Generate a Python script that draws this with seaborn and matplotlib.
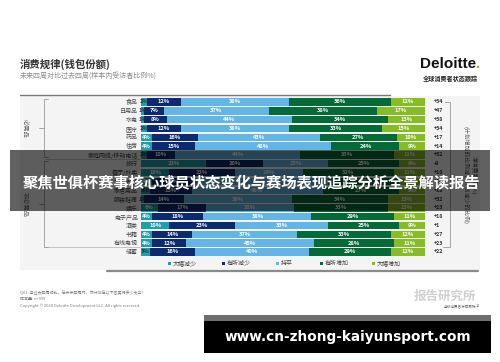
import numpy as np
import pandas as pd
import matplotlib
matplotlib.use("Agg")
import matplotlib.pyplot as plt
import seaborn as sns
from matplotlib.patches import Rectangle
from matplotlib.lines import Line2D

# ---------------- data ----------------
categories = ["食品", "日用品", "水电", "医疗", "药品", "住房", "家庭网络/移动电话",
              "旅行", "餐厅/外卖", "个人护理", "家居用品", "服装鞋履", "娱乐",
              "电子产品", "酒类", "书籍", "有线电视", "储蓄"]
big_decrease   = [2, 1, 1, 2, 4, 4, 2, 23, 10, 4, 3, 1, 6, 4, 10, 4, 4, 3]
some_decrease  = [12, 7, 8, 12, 16, 15, 10, 20, 23, 14, 15, 14, 17, 18, 23, 14, 12, 16]
same           = [38, 37, 44, 38, 43, 48, 44, 23, 24, 48, 46, 38, 31, 38, 33, 37, 45, 40]
some_increase  = [36, 38, 34, 33, 27, 24, 33, 25, 32, 25, 27, 34, 33, 29, 25, 33, 28, 29]
big_increase   = [12, 17, 13, 15, 10, 9, 11, 9, 11, 9, 9, 13, 13, 11, 9, 12, 11, 12]
net_values     = [34, 47, 38, 34, 17, 14, 32, -9, 10, 16, 18, 32, 23, 18, 1, 27, 23, 22]
series_names = ["大幅减少", "有所减少", "持平", "有所增加", "大幅增加"]
colors = ["#1f9fac", "#0b2a6f", "#62b5e5", "#046a38", "#86bc25"]

series = [big_decrease, some_decrease, same, some_increase, big_increase]

# ---------------- setup ----------------
sns.set_style("white")
plt.rcParams["font.family"] = ["Noto Sans CJK SC", "DejaVu Sans"]

W, H = 500, 362
fig = plt.figure(figsize=(W / 100, H / 100), dpi=100)
fig.patch.set_facecolor("white")

def fx(px):
    return px / W

def fy(py):
    return 1 - py / H

# gray panel
fig.patches.append(Rectangle((fx(20), fy(270)), 460 / W, (270 - 96) / H,
                             transform=fig.transFigure, facecolor="#f4f4f4",
                             edgecolor="none", zorder=-1))
fig.add_artist(Line2D([fx(20), fx(390)], [fy(95), fy(95)], transform=fig.transFigure,
                      color="#7a7a7a", lw=1.0, zorder=2))
fig.add_artist(Line2D([fx(107), fx(478)], [fy(271), fy(271)], transform=fig.transFigure,
                      color="#8a8a8a", lw=1.6, zorder=2))

# ---------------- bars ----------------
row_h = (252 - 102) / 17
top_px = 102 - row_h / 2
bot_px = 252 + row_h / 2
ax = fig.add_axes([fx(141), fy(bot_px), (425 - 141) / W, (bot_px - top_px) / H])
ax.set_facecolor("none")

df = pd.DataFrame({"category": categories})
cum = np.zeros(len(categories))
cums = []
for s in series:
    cum = cum + np.array(s)
    cums.append(cum.copy())

for j in range(len(series) - 1, -1, -1):
    d = pd.DataFrame({"category": categories, "value": cums[j]})
    sns.barplot(data=d, x="value", y="category", orient="h", color=colors[j],
                saturation=1, width=0.84, linewidth=0, ax=ax, errorbar=None)

ax.set_xlim(0, 100)
ax.set_ylim(len(categories) - 0.5, -0.5)
ax.set_xlabel("")
ax.set_ylabel("")
ax.set_xticks([])
for sp in ax.spines.values():
    sp.set_visible(False)
ax.tick_params(axis="y", length=0, pad=2.2, labelsize=4.3, labelcolor="#444444")

# segment labels
for j, s in enumerate(series):
    for i, v in enumerate(s):
        center = cums[j][i] - v / 2
        col = "white" if v >= 4 else "#333333"
        ax.text(center, i, f"{v}%", ha="center", va="center", fontsize=4.1,
                color=col, fontweight="bold")

# net values
for i, n in enumerate(net_values):
    txt = f"+{n}" if n > 0 else f"{n}"
    ax.text(103.2, i, txt, ha="left", va="center", fontsize=3.8,
            color="#333333", fontweight="bold", clip_on=False)

# ---------------- separators and brackets ----------------
for yy in (158.5, 247):
    fig.add_artist(Line2D([fx(45), fx(140)], [fy(yy), fy(yy)], transform=fig.transFigure,
                          color="#bdbdbd", lw=0.6, zorder=2))

def bracket_left(y0, y1):
    x = 44
    fig.add_artist(Line2D([fx(x + 4), fx(x), fx(x), fx(x + 4)],
                          [fy(y0), fy(y0), fy(y1), fy(y1)], transform=fig.transFigure,
                          color="#9a9a9a", lw=0.6, zorder=2))
    ym = (y0 + y1) / 2
    fig.add_artist(Line2D([fx(x - 5), fx(x)], [fy(ym), fy(ym)], transform=fig.transFigure,
                          color="#9a9a9a", lw=0.6, zorder=2))

bracket_left(99, 157)
bracket_left(161, 247)
fig.text(fx(25), fy(128), "必需品", rotation=270, ha="center", va="center",
         fontsize=4.5, color="#666666")
fig.text(fx(25), fy(204), "非必需品", rotation=270, ha="center", va="center",
         fontsize=4.5, color="#666666")

fig.add_artist(Line2D([fx(445), fx(450), fx(450), fx(443)],
                      [fy(102), fy(102), fy(247), fy(247)], transform=fig.transFigure,
                      color="#9a9a9a", lw=0.6, zorder=2))
fig.text(fx(470), fy(175), "净消费意愿(%)\n(计划增加的比例减去计划减少的比例)", rotation=270,
         ha="center", va="center", fontsize=4.2, color="#555555", linespacing=1.3)

# ---------------- legend ----------------
leg_x = [168, 222, 276, 320, 372]
for x, name, c in zip(leg_x, series_names, colors):
    fig.patches.append(Rectangle((fx(x), fy(264.5)), 3 / W, 3 / H, transform=fig.transFigure,
                                 facecolor=c, edgecolor="none", zorder=2))
    fig.text(fx(x + 4.5), fy(263), name, ha="left", va="center", fontsize=4.3,
             color="#444444")

# ---------------- titles ----------------
fig.text(fx(20), fy(64), "消费规律(钱包份额)", ha="left", va="center", fontsize=7.5,
         color="#333333", fontweight="bold")
fig.text(fx(20), fy(76), "未来四周对比过去四周(样本内受访者比例%)", ha="left", va="center",
         fontsize=5.0, color="#8a8a8a")
fig.text(fx(420), fy(64), "Deloitte", ha="left", va="center", fontsize=11,
         fontweight="bold", color="#111111", family=["Liberation Sans", "DejaVu Sans"])
fig.text(fx(476), fy(64), ".", ha="left", va="center", fontsize=11,
         fontweight="bold", color="#86bc25", family=["Liberation Sans", "DejaVu Sans"])
fig.text(fx(423), fy(79), "全球消费者状态跟踪", ha="left", va="center", fontsize=4.4,
         color="#222222", fontweight="bold")

# ---------------- footer ----------------
fig.text(fx(20), fy(292), "Q61: 与过去四周相比，在未来四周内，你计划在以下各类将多少支出?",
         ha="left", va="center", fontsize=2.9, color="#777777")
fig.text(fx(20), fy(299), "样本量: n=999", ha="left", va="center", fontsize=2.9,
         color="#777777")
fig.text(fx(20), fy(306), "Copyright © 2020 Deloitte Development LLC. All rights reserved.",
         ha="left", va="center", fontsize=2.9, color="#777777")
fig.text(fx(445), fy(296), "报告研究所", ha="center", va="center", fontsize=9,
         color="#d0d0d0", fontweight="bold")
fig.text(fx(460), fy(306), "全球消费者状态跟踪", ha="center", va="center", fontsize=2.6,
         color="#666666")
fig.text(fx(478), fy(306), "12", ha="center", va="center", fontsize=2.8, color="#666666")

# ---------------- overlay banner ----------------
fig.patches.append(Rectangle((fx(10), fy(211)), 480 / W, 61 / H, transform=fig.transFigure,
                             facecolor="black", alpha=0.62, edgecolor="none", zorder=5))
fig.text(fx(251), fy(183), "聚焦世俱杯赛事核心球员状态变化与赛场表现追踪分析全景解读报告",
         ha="center", va="center", fontsize=11, color="white", fontweight="bold", zorder=6)

# ---------------- url box ----------------
fig.patches.append(Rectangle((fx(204), fy(321)), 287 / W, 6 / H, transform=fig.transFigure,
                             facecolor="#6e6e6e", edgecolor="none", zorder=5))
fig.patches.append(Rectangle((fx(204), fy(353)), 287 / W, 32 / H, transform=fig.transFigure,
                             facecolor="black", edgecolor="none", zorder=5))
fig.text(fx(347.5), fy(337.5), "www.cn-zhong-kaiyunsport.com", ha="center", va="center",
         fontsize=9.8, color="white", fontweight="bold", zorder=6,
         family=["DejaVu Sans"])

fig.savefig("out.png", dpi=100)
